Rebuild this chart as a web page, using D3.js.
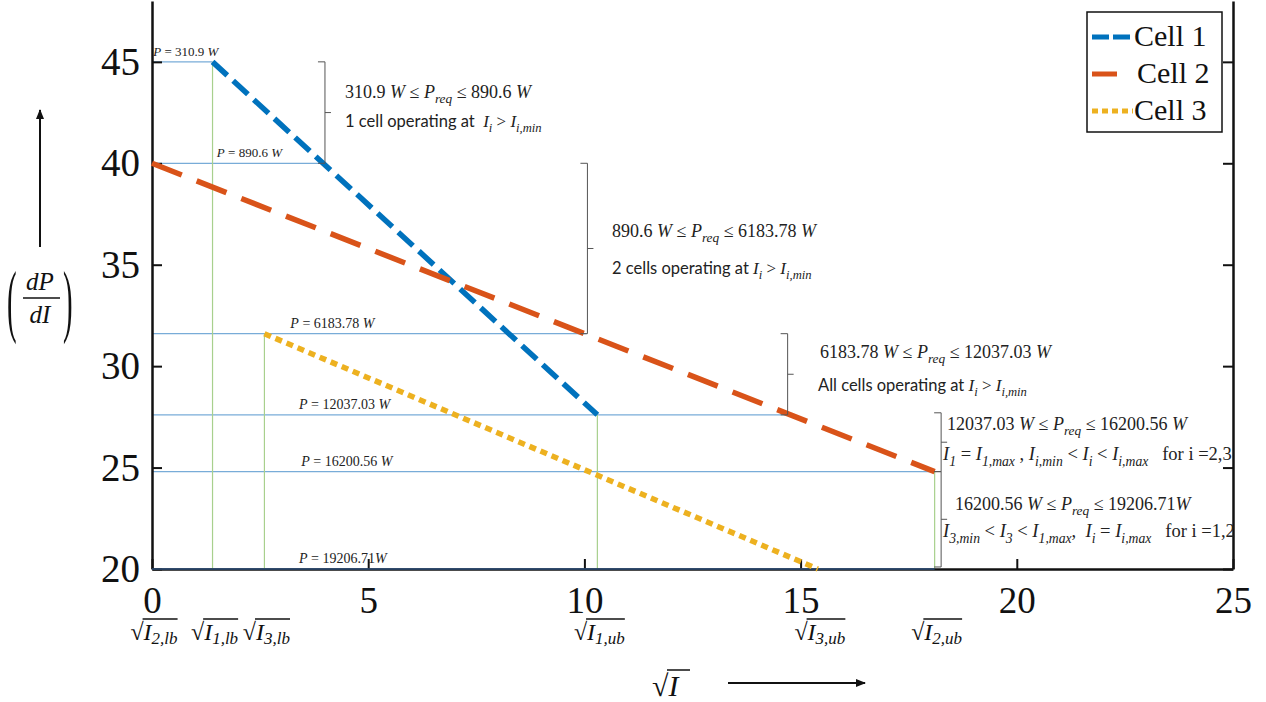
<!DOCTYPE html>
<html>
<head>
<meta charset="utf-8">
<script src="https://cdn.jsdelivr.net/npm/d3@7"></script>
<style>
  body { margin: 0; background: #fff; }
  text { white-space: pre; }
</style>
</head>
<body>
<div class="chart"></div>
<script>
// series: [sqrt(I), dP/dI] end points
const cellNames = ["Cell 1", "Cell 2", "Cell 3"];
const cell1 = [[1.4, 45], [10.3, 27.6]];
const cell2 = [[0, 40], [18.1, 24.8]];
const cell3 = [[2.6, 31.6], [15.4, 20]];
const cellColors = ["#0072bd", "#d95319", "#edb120"];
const cellDash = ["20,8", "32,16", "7,5"];

// power levels (horizontal guides)
const powerValues = ["310.9 ", "890.6 ", "6183.78 ", "12037.03 ", "16200.56 ", "19206.71"];
const powerY = [45, 40, 31.6, 27.6, 24.8, 20];
const powerXEnd = [1.4, 4.0, 10.05, 14.7, 18.1, 18.1];
const powerLabelX = [0.03, 1.5, 3.2, 3.4, 3.45, 3.4];

// current bounds (vertical guides)
const boundX = [1.4, 2.6, 10.3, 18.1];
const boundTop = [45, 31.6, 27.6, 24.8];
const boundNames = [[0, "2,lb"], [1.4, "1,lb"], [2.6, "3,lb"], [10.3, "1,ub"], [15.4, "3,ub"], [18.1, "2,ub"]];

const xTicks = [0, 5, 10, 15, 20, 25];
const yTicks = [20, 25, 30, 35, 40, 45];

// brace annotations: x, y from, y to
const braceX = [4.0, 10.07, 14.7, 18.25, 18.25];
const braceY = [[45, 40], [40, 31.6], [31.6, 27.6], [27.7, 24.8], [24.8, 20.1]];
const rangeLines = [
  [["310.9 ", "r"], ["W", "i"], [" ≤ ", "r"], ["P", "i"], ["req", "s"], [" ≤ 890.6 ", "r"], ["W", "i"]],
  [["890.6 ", "r"], ["W", "i"], [" ≤ ", "r"], ["P", "i"], ["req", "s"], [" ≤ 6183.78 ", "r"], ["W", "i"]],
  [["6183.78 ", "r"], ["W", "i"], [" ≤ ", "r"], ["P", "i"], ["req", "s"], [" ≤ 12037.03 ", "r"], ["W", "i"]],
  [["12037.03 ", "r"], ["W", "i"], [" ≤ ", "r"], ["P", "i"], ["req", "s"], [" ≤ 16200.56 ", "r"], ["W", "i"]],
  [["16200.56 ", "r"], ["W", "i"], [" ≤ ", "r"], ["P", "i"], ["req", "s"], [" ≤ 19206.71", "r"], ["W", "i"]]
];
const stateLines = [
  [["1 cell operating at  ", "c"], ["I", "i"], ["i", "s"], [" > ", "r"], ["I", "i"], ["i,min", "s"]],
  [["2 cells operating at ", "c"], ["I", "i"], ["i", "s"], [" > ", "r"], ["I", "i"], ["i,min", "s"]],
  [["All cells operating at ", "c"], ["I", "i"], ["i", "s"], [" > ", "r"], ["I", "i"], ["i,min", "s"]],
  [["I", "i"], ["1", "s"], [" = ", "r"], ["I", "i"], ["1,max", "s"], [" , ", "r"], ["I", "i"], ["i,min", "s"], [" < ", "r"], ["I", "i"], ["i", "s"], [" < ", "r"], ["I", "i"], ["i,max", "s"], ["   for i =2,3", "r"]],
  [["I", "i"], ["3,min", "s"], [" < ", "r"], ["I", "i"], ["3", "s"], [" < ", "r"], ["I", "i"], ["1,max", "s"], [",  ", "r"], ["I", "i"], ["i", "s"], [" = ", "r"], ["I", "i"], ["i,max", "s"], ["   for i =1,2", "r"]]
];
const textPos = [[345, 98, 127], [612, 237, 274], [820, 358, 391], [947, 430, 460], [955, 510, 537]];
const textX2 = [345, 612, 818, 943, 943];

const width = 1266, height = 702;
const svg = d3.select('.chart').append('svg')
  .attr('width', width)
  .attr('height', height)
  .style('font-family', 'Liberation Serif');

const x = d3.scaleLinear().domain([0, 25]).range([152, 1233]);
const y = d3.scaleLinear().domain([20, 48]).range([569, 1]);

function rich(g, px, py, parts, size, csize) {
  const t = g.append('text').attr('x', px).attr('y', py).attr('font-size', size).attr('fill', '#222');
  let shift = 0;
  parts.forEach(([s, k]) => {
    const sp = t.append('tspan').text(s);
    const sub = k === 's';
    const ns = sub ? size * 0.3 : 0;
    if (ns !== shift) sp.attr('dy', ns - shift);
    shift = ns;
    sp.attr('font-family', k === 'c' ? 'Lato' : 'Liberation Serif');
    if (k === 'i' || k === 's') sp.attr('font-style', 'italic');
    if (sub) sp.attr('font-size', size * 0.74);
    if (k === 'c') sp.attr('font-size', csize || size);
  });
  return t;
}

// guides
svg.selectAll('.hguide')
  .data(powerY)
  .enter()
  .append('line')
  .attr('x1', x(0))
  .attr('x2', (d, i) => x(powerXEnd[i]))
  .attr('y1', d => y(d))
  .attr('y2', d => y(d))
  .attr('stroke', '#78acd8')
  .attr('stroke-width', 1.2);

svg.selectAll('.vguide')
  .data(boundX)
  .enter()
  .append('line')
  .attr('x1', d => x(d))
  .attr('x2', d => x(d))
  .attr('y1', y(20))
  .attr('y2', (d, i) => y(boundTop[i]))
  .attr('stroke', '#a8d08d')
  .attr('stroke-width', 1.2);

const pl = svg.selectAll('.plabel')
  .data(powerValues)
  .enter()
  .append('text')
  .attr('x', (d, i) => x(powerLabelX[i]))
  .attr('y', (d, i) => y(powerY[i]) - 6)
  .attr('font-size', (d, i) => i < 2 ? 13 : 14)
  .attr('fill', '#222');
pl.append('tspan').attr('font-style', 'italic').text('P');
pl.append('tspan').text(d => ' = ' + d);
pl.append('tspan').attr('font-style', 'italic').text('W');

// axes
const yAxis = d3.axisLeft(y).tickValues(yTicks).tickSizeInner(-10).tickSizeOuter(0).tickPadding(12);
const yAxisR = d3.axisRight(y).tickValues(yTicks).tickSizeInner(-10).tickSizeOuter(0).tickFormat('');
const xAxis = d3.axisBottom(x).tickValues(xTicks).tickSizeInner(-10).tickSizeOuter(0).tickPadding(16);

const gy = svg.append('g').attr('transform', `translate(${x(0)},0)`).call(yAxis);
const gyr = svg.append('g').attr('transform', `translate(${x(25)},0)`).call(yAxisR);
const gx = svg.append('g').attr('transform', `translate(0,${y(20)})`).call(xAxis);
[gy, gyr, gx].forEach(g => {
  g.select('.domain').attr('stroke', '#111').attr('stroke-width', 2.5);
  g.selectAll('.tick line').attr('stroke', '#111').attr('stroke-width', 2);
  g.selectAll('.tick text').attr('font-family', 'Liberation Serif').attr('fill', '#111');
});
gy.selectAll('.tick text').attr('font-size', 39);
gx.selectAll('.tick text').attr('font-size', 37).attr('dy', '0.77em');

// bottom P line overlay
svg.append('line')
  .attr('x1', x(0)).attr('x2', x(18.1))
  .attr('y1', y(20)).attr('y2', y(20))
  .attr('stroke', '#2f4f78').attr('stroke-width', 1.5);

// series
const line = d3.line().x(d => x(d[0])).y(d => y(d[1]));
svg.selectAll('.cell')
  .data([cell1, cell2, cell3])
  .enter()
  .append('path')
  .attr('d', line)
  .attr('fill', 'none')
  .attr('stroke', (d, i) => cellColors[i])
  .attr('stroke-width', 5.5)
  .attr('stroke-dasharray', (d, i) => cellDash[i]);

// braces
braceX.forEach((bx, i) => {
  const px = x(bx), y1 = y(braceY[i][0]), y2 = y(braceY[i][1]), ym = (y1 + y2) / 2;
  svg.append('path')
    .attr('d', `M${px - 7},${y1}H${px}V${y2}H${px - 7}M${px},${ym}H${px + 6}`)
    .attr('fill', 'none')
    .attr('stroke', '#555')
    .attr('stroke-width', 1);
});

const ann = svg.append('g');
rangeLines.forEach((parts, i) => rich(ann, textPos[i][0], textPos[i][1], parts, 18));
stateLines.forEach((parts, i) => rich(ann, textX2[i], textPos[i][2], parts, i < 3 ? 17 : 18.5, i < 3 ? 16.5 : null));

// sqrt bound labels under the x axis
boundNames.forEach(([bx, sub]) => {
  const t = svg.append('text')
    .attr('x', x(bx) + 2)
    .attr('y', 640)
    .attr('text-anchor', 'middle')
    .attr('font-size', 24)
    .attr('fill', '#111');
  t.append('tspan').text('√');
  t.append('tspan').attr('font-style', 'italic').text('I');
  t.append('tspan').attr('font-style', 'italic').attr('font-size', 17).attr('dy', 4).text(sub);
  const bb = t.node().getBBox();
  const rw = t.node().getSubStringLength(0, 1);
  svg.append('line')
    .attr('x1', bb.x + rw - 1).attr('x2', bb.x + bb.width)
    .attr('y1', 619).attr('y2', 619)
    .attr('stroke', '#111').attr('stroke-width', 1.3);
});

// x label
const xl = svg.append('text').attr('x', 652).attr('y', 696).attr('font-size', 30).attr('fill', '#111');
xl.append('tspan').text('√');
xl.append('tspan').attr('font-style', 'italic').text('I');
svg.append('line').attr('x1', 667).attr('x2', 690).attr('y1', 670).attr('y2', 670).attr('stroke', '#111').attr('stroke-width', 1.5);
svg.append('defs').append('marker')
  .attr('id', 'arr').attr('viewBox', '0 0 10 10').attr('refX', 9).attr('refY', 5)
  .attr('markerWidth', 5).attr('markerHeight', 5).attr('orient', 'auto')
  .append('path').attr('d', 'M0,1L10,5L0,9Z').attr('fill', '#111');
svg.append('line').attr('x1', 728).attr('x2', 865).attr('y1', 683).attr('y2', 683)
  .attr('stroke', '#111').attr('stroke-width', 2).attr('marker-end', 'url(#arr)');

// y label
svg.append('line').attr('x1', 40).attr('x2', 40).attr('y1', 247).attr('y2', 110)
  .attr('stroke', '#111').attr('stroke-width', 2).attr('marker-end', 'url(#arr)');
const yl = svg.append('g').attr('fill', '#111');
yl.append('text').attr('transform', 'translate(7,327) scale(0.45,1.25)').attr('font-size', 64).text('(');
yl.append('text').attr('transform', 'translate(63,327) scale(0.45,1.25)').attr('font-size', 64).text(')');
yl.append('text').attr('x', 40).attr('y', 290).attr('text-anchor', 'middle').attr('font-size', 25).attr('font-style', 'italic').text('dP');
yl.append('text').attr('x', 40).attr('y', 323).attr('text-anchor', 'middle').attr('font-size', 25).attr('font-style', 'italic').text('dI');
svg.append('line').attr('x1', 23).attr('x2', 60).attr('y1', 298).attr('y2', 298).attr('stroke', '#111').attr('stroke-width', 1.5);

// legend
const lg = svg.append('g');
lg.append('rect').attr('x', 1087).attr('y', 12).attr('width', 135).attr('height', 120)
  .attr('fill', '#fff').attr('stroke', '#111').attr('stroke-width', 1.5);
const legDash = ["17,4", "25,20", "6,4"];
const legEnd = [1133, 1117, 1133];
cellNames.forEach((n, i) => {
  const ly = 37 + i * 37;
  lg.append('line').attr('x1', 1092).attr('x2', legEnd[i]).attr('y1', ly).attr('y2', ly)
    .attr('stroke', cellColors[i]).attr('stroke-width', 5).attr('stroke-dasharray', legDash[i]);
  lg.append('text').attr('x', i === 1 ? 1137 : 1134).attr('y', ly + 9).attr('font-size', 30).attr('fill', '#111').text(n);
});
</script>
</body>
</html>
